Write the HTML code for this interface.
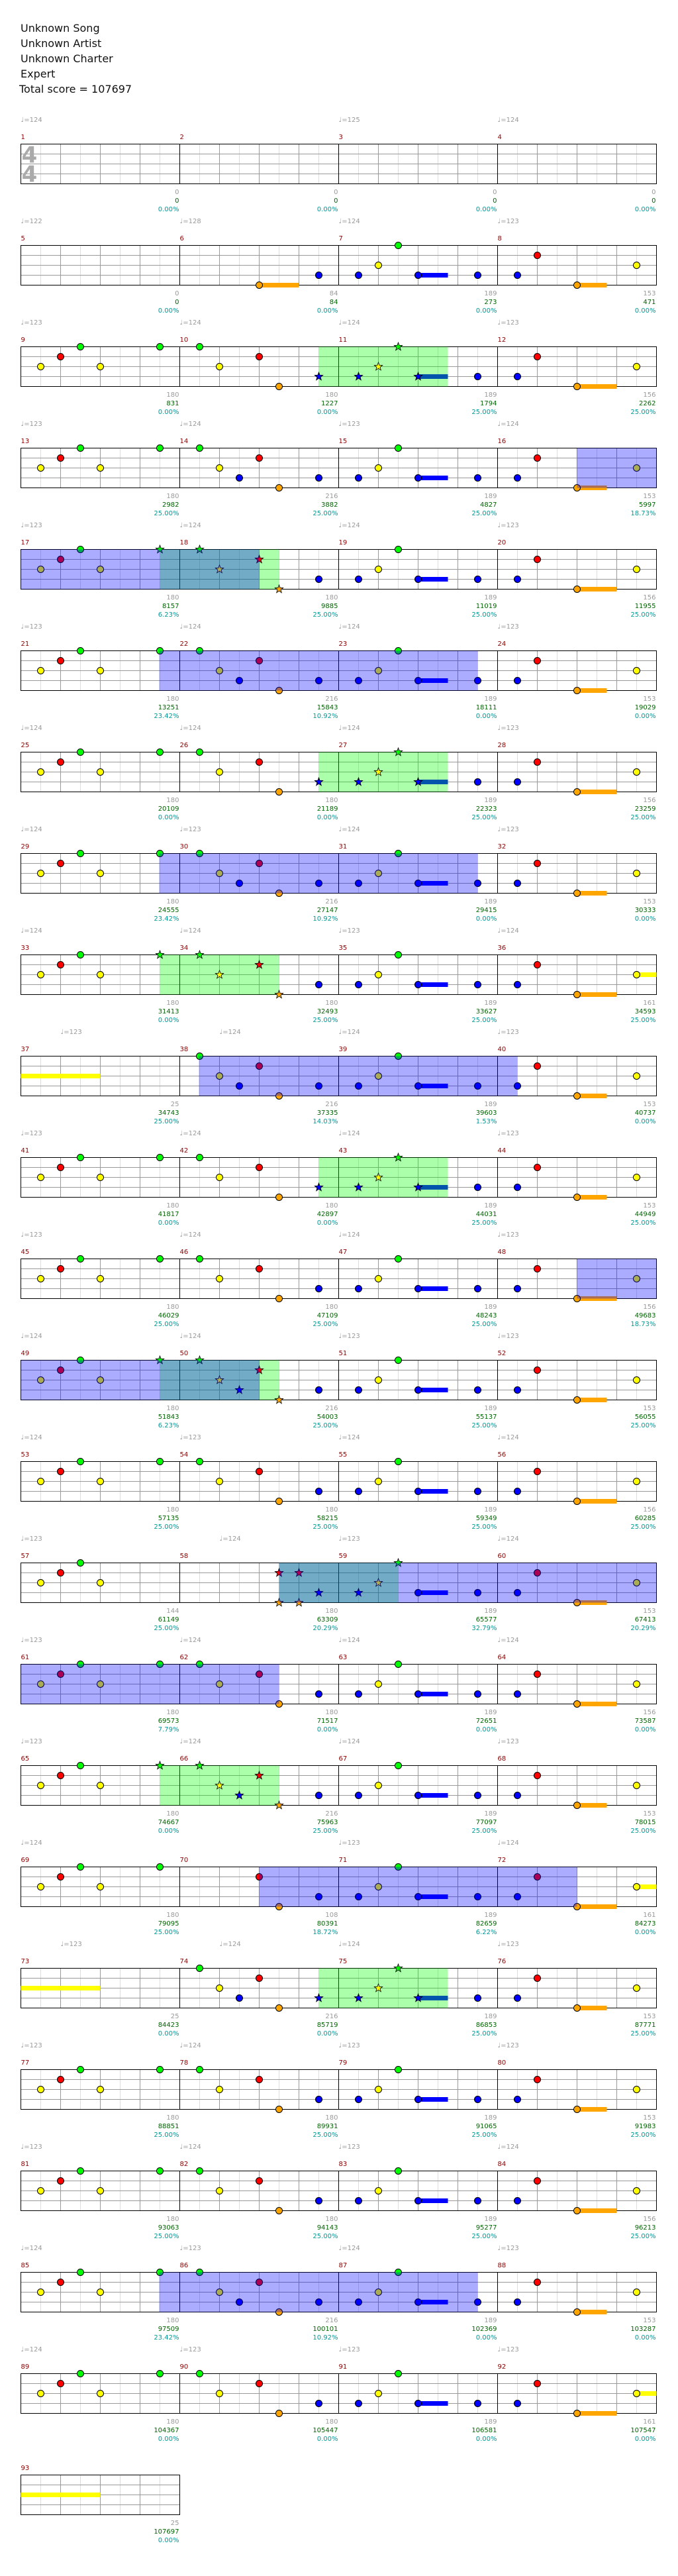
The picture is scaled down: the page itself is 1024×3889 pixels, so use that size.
<!DOCTYPE html>
<html><head><meta charset="utf-8">
<style>
html,body{margin:0;padding:0;background:#fff;}
svg{display:block;}
text{font-family:"DejaVu Sans","Liberation Sans",sans-serif;font-size:10px;}
.tp{fill:#9a9a9a}
.mn{fill:#8b0000}
.g1{fill:#9a9a9a;text-anchor:end}
.g2{fill:#006400;text-anchor:end}
.g3{fill:#009a9a;text-anchor:end}
.hd{font-size:16px;fill:#111}
</style></head><body>
<svg width="1024" height="3889" viewBox="0 0 1024 3889" xmlns="http://www.w3.org/2000/svg" xmlns:xlink="http://www.w3.org/1999/xlink">
<defs>
<g id="mg"><path d="M30 0V60M90 0V60M150 0V60M210 0V60" stroke="#ddd"/><path d="M60 0V60M120 0V60M180 0V60M0 15H240M0 30H240M0 45H240" stroke="#999"/></g>
<g id="rg"><rect width="960" height="60" fill="#fff"/><use href="#mg" x="0"/><use href="#mg" x="240"/><use href="#mg" x="480"/><use href="#mg" x="720"/><rect width="960" height="60" fill="none" stroke="#000"/><path d="M240 0V60M480 0V60M720 0V60" stroke="#000"/></g>
<circle id="G" r="5" fill="#00ff00" stroke="#000"/>
<circle id="R" r="5" fill="#ff0000" stroke="#000"/>
<circle id="Y" r="5" fill="#ffff00" stroke="#000"/>
<circle id="B" r="5" fill="#0000ff" stroke="#000"/>
<circle id="O" r="5" fill="#ffa500" stroke="#000"/>
<path id="st" d="M0,-6.5L1.6,-2.2L6.2,-2L2.6,0.8L3.8,5.3L0,2.7L-3.8,5.3L-2.6,0.8L-6.2,-2L-1.6,-2.2Z" stroke="#000" stroke-width="0.8"/>
<use id="sG" href="#st" fill="#00ff00"/>
<use id="sR" href="#st" fill="#ff0000"/>
<use id="sY" href="#st" fill="#ffff00"/>
<use id="sB" href="#st" fill="#0000ff"/>
<use id="sO" href="#st" fill="#ffa500"/>
<g id="mAx"><use href="#Y" x="30" y="30"/><use href="#R" x="60" y="15"/><use href="#G" x="90" y="0"/><use href="#Y" x="120" y="30"/></g>
<g id="mA"><use href="#mAx"/><use href="#G" x="210" y="0"/></g>
<g id="mBx"><use href="#G" x="30" y="0"/><use href="#Y" x="60" y="30"/><use href="#R" x="120" y="15"/><use href="#O" x="150" y="60"/></g>
<g id="mB"><use href="#mBx"/><use href="#B" x="210" y="45"/></g>
<g id="mB9"><use href="#mB"/><use href="#B" x="90" y="45"/></g>
<g id="mC"><rect x="120" y="41.5" width="45" height="7" fill="#0000ff"/><use href="#B" x="30" y="45"/><use href="#Y" x="60" y="30"/><use href="#G" x="90" y="0"/><use href="#B" x="120" y="45"/><use href="#B" x="210" y="45"/></g>
<g id="mD5"><rect x="120" y="56.5" width="45" height="7" fill="#ffa500"/><use href="#B" x="30" y="45"/><use href="#R" x="60" y="15"/><use href="#O" x="120" y="60"/><use href="#Y" x="210" y="30"/></g>
<g id="mD8"><rect x="120" y="56.5" width="60" height="7" fill="#ffa500"/><use href="#B" x="30" y="45"/><use href="#R" x="60" y="15"/><use href="#O" x="120" y="60"/><use href="#Y" x="210" y="30"/></g>
<g id="sp11"><rect x="120" y="41.5" width="45" height="7" fill="#0000ff"/></g>
<g id="st11"><use href="#sB" x="30" y="45"/><use href="#sY" x="60" y="30"/><use href="#sG" x="90" y="0"/><use href="#sB" x="120" y="45"/><use href="#B" x="210" y="45"/></g>
</defs>

<text class="hd" x="31" y="48">Unknown Song</text>
<text class="hd" x="31" y="71">Unknown Artist</text>
<text class="hd" x="31" y="94">Unknown Charter</text>
<text class="hd" x="31" y="117">Expert</text>
<text class="hd" x="29" y="140">Total score = 107697</text>

<!-- Row 1 -->
<g transform="translate(31.5,217.5)">
<use href="#rg"/>
<text x="13" y="28" style="font-size:34px;font-weight:bold;fill:#aaa" text-anchor="middle">4</text>
<text x="13" y="57" style="font-size:34px;font-weight:bold;fill:#aaa" text-anchor="middle">4</text>
<text class="tp" x="0" y="-33.5">♩=124</text><text class="tp" x="480" y="-33.5">♩=125</text><text class="tp" x="720" y="-33.5">♩=124</text>
<text class="mn" x="0" y="-7.5">1</text><text class="mn" x="240" y="-7.5">2</text><text class="mn" x="480" y="-7.5">3</text><text class="mn" x="720" y="-7.5">4</text>
<text class="g1" x="239" y="75.5">0</text><text class="g2" x="239" y="88.5">0</text><text class="g3" x="239" y="101.5">0.00%</text>
<text class="g1" x="479" y="75.5">0</text><text class="g2" x="479" y="88.5">0</text><text class="g3" x="479" y="101.5">0.00%</text>
<text class="g1" x="719" y="75.5">0</text><text class="g2" x="719" y="88.5">0</text><text class="g3" x="719" y="101.5">0.00%</text>
<text class="g1" x="959" y="75.5">0</text><text class="g2" x="959" y="88.5">0</text><text class="g3" x="959" y="101.5">0.00%</text>
</g>

<!-- Row 2 -->
<g transform="translate(31.5,370.5)">
<use href="#rg"/>
<rect x="360" y="56.5" width="60" height="7" fill="#ffa500"/><use href="#O" x="360" y="60"/><use href="#B" x="450" y="45"/>
<use href="#mC" x="480"/><use href="#mD5" x="720"/>
<text class="tp" x="0" y="-33.5">♩=122</text><text class="tp" x="240" y="-33.5">♩=128</text><text class="tp" x="480" y="-33.5">♩=124</text><text class="tp" x="720" y="-33.5">♩=123</text>
<text class="mn" x="0" y="-7.5">5</text><text class="mn" x="240" y="-7.5">6</text><text class="mn" x="480" y="-7.5">7</text><text class="mn" x="720" y="-7.5">8</text>
<text class="g1" x="239" y="75.5">0</text><text class="g2" x="239" y="88.5">0</text><text class="g3" x="239" y="101.5">0.00%</text>
<text class="g1" x="479" y="75.5">84</text><text class="g2" x="479" y="88.5">84</text><text class="g3" x="479" y="101.5">0.00%</text>
<text class="g1" x="719" y="75.5">189</text><text class="g2" x="719" y="88.5">273</text><text class="g3" x="719" y="101.5">0.00%</text>
<text class="g1" x="959" y="75.5">153</text><text class="g2" x="959" y="88.5">471</text><text class="g3" x="959" y="101.5">0.00%</text>
</g>

<!-- Row 3 -->
<g transform="translate(31.5,523.5)">
<use href="#rg"/>
<use href="#sp11" x="480"/>
<rect x="450" y="0" width="195" height="60" fill="#00ff00" fill-opacity="0.33"/>
<use href="#mA" x="0"/><use href="#mBx" x="240"/><use href="#sB" x="450" y="45"/>
<use href="#st11" x="480"/><use href="#mD8" x="720"/>
<text class="tp" x="0" y="-33.5">♩=123</text><text class="tp" x="240" y="-33.5">♩=124</text><text class="tp" x="480" y="-33.5">♩=124</text><text class="tp" x="720" y="-33.5">♩=123</text>
<text class="mn" x="0" y="-7.5">9</text><text class="mn" x="240" y="-7.5">10</text><text class="mn" x="480" y="-7.5">11</text><text class="mn" x="720" y="-7.5">12</text>
<text class="g1" x="239" y="75.5">180</text><text class="g2" x="239" y="88.5">831</text><text class="g3" x="239" y="101.5">0.00%</text>
<text class="g1" x="479" y="75.5">180</text><text class="g2" x="479" y="88.5">1227</text><text class="g3" x="479" y="101.5">0.00%</text>
<text class="g1" x="719" y="75.5">189</text><text class="g2" x="719" y="88.5">1794</text><text class="g3" x="719" y="101.5">25.00%</text>
<text class="g1" x="959" y="75.5">156</text><text class="g2" x="959" y="88.5">2262</text><text class="g3" x="959" y="101.5">25.00%</text>
</g>

<!-- Row 4 -->
<g transform="translate(31.5,676.5)">
<use href="#rg"/>
<use href="#mA" x="0"/><use href="#mB9" x="240"/><use href="#mC" x="480"/><use href="#mD5" x="720"/>
<rect x="840" y="0" width="120" height="60" fill="#0000ff" fill-opacity="0.33"/>
<text class="tp" x="0" y="-33.5">♩=123</text><text class="tp" x="240" y="-33.5">♩=124</text><text class="tp" x="480" y="-33.5">♩=123</text><text class="tp" x="720" y="-33.5">♩=124</text>
<text class="mn" x="0" y="-7.5">13</text><text class="mn" x="240" y="-7.5">14</text><text class="mn" x="480" y="-7.5">15</text><text class="mn" x="720" y="-7.5">16</text>
<text class="g1" x="239" y="75.5">180</text><text class="g2" x="239" y="88.5">2982</text><text class="g3" x="239" y="101.5">25.00%</text>
<text class="g1" x="479" y="75.5">216</text><text class="g2" x="479" y="88.5">3882</text><text class="g3" x="479" y="101.5">25.00%</text>
<text class="g1" x="719" y="75.5">189</text><text class="g2" x="719" y="88.5">4827</text><text class="g3" x="719" y="101.5">25.00%</text>
<text class="g1" x="959" y="75.5">153</text><text class="g2" x="959" y="88.5">5997</text><text class="g3" x="959" y="101.5">18.73%</text>
</g>

<!-- Row 5 -->
<g transform="translate(31.5,829.5)">
<use href="#rg"/>
<rect x="210" y="0" width="180" height="60" fill="#00ff00" fill-opacity="0.33"/>
<use href="#mAx" x="0"/><use href="#sG" x="210" y="0"/>
<use href="#sG" x="270" y="0"/><use href="#sY" x="300" y="30"/><use href="#sR" x="360" y="15"/><use href="#sO" x="390" y="60"/><use href="#B" x="450" y="45"/>
<use href="#mC" x="480"/><use href="#mD8" x="720"/>
<rect x="0" y="0" width="360" height="60" fill="#0000ff" fill-opacity="0.33"/>
<text class="tp" x="0" y="-33.5">♩=123</text><text class="tp" x="240" y="-33.5">♩=124</text><text class="tp" x="480" y="-33.5">♩=124</text><text class="tp" x="720" y="-33.5">♩=123</text>
<text class="mn" x="0" y="-7.5">17</text><text class="mn" x="240" y="-7.5">18</text><text class="mn" x="480" y="-7.5">19</text><text class="mn" x="720" y="-7.5">20</text>
<text class="g1" x="239" y="75.5">180</text><text class="g2" x="239" y="88.5">8157</text><text class="g3" x="239" y="101.5">6.23%</text>
<text class="g1" x="479" y="75.5">180</text><text class="g2" x="479" y="88.5">9885</text><text class="g3" x="479" y="101.5">25.00%</text>
<text class="g1" x="719" y="75.5">189</text><text class="g2" x="719" y="88.5">11019</text><text class="g3" x="719" y="101.5">25.00%</text>
<text class="g1" x="959" y="75.5">156</text><text class="g2" x="959" y="88.5">11955</text><text class="g3" x="959" y="101.5">25.00%</text>
</g>

<!-- Row 6 -->
<g transform="translate(31.5,982.5)">
<use href="#rg"/>
<use href="#mA" x="0"/><use href="#mB9" x="240"/><use href="#mC" x="480"/><use href="#mD5" x="720"/>
<rect x="209" y="0" width="481" height="60" fill="#0000ff" fill-opacity="0.33"/>
<text class="tp" x="0" y="-33.5">♩=123</text><text class="tp" x="240" y="-33.5">♩=124</text><text class="tp" x="480" y="-33.5">♩=124</text><text class="tp" x="720" y="-33.5">♩=123</text>
<text class="mn" x="0" y="-7.5">21</text><text class="mn" x="240" y="-7.5">22</text><text class="mn" x="480" y="-7.5">23</text><text class="mn" x="720" y="-7.5">24</text>
<text class="g1" x="239" y="75.5">180</text><text class="g2" x="239" y="88.5">13251</text><text class="g3" x="239" y="101.5">23.42%</text>
<text class="g1" x="479" y="75.5">216</text><text class="g2" x="479" y="88.5">15843</text><text class="g3" x="479" y="101.5">10.92%</text>
<text class="g1" x="719" y="75.5">189</text><text class="g2" x="719" y="88.5">18111</text><text class="g3" x="719" y="101.5">0.00%</text>
<text class="g1" x="959" y="75.5">153</text><text class="g2" x="959" y="88.5">19029</text><text class="g3" x="959" y="101.5">0.00%</text>
</g>

<!-- Row 7 -->
<g transform="translate(31.5,1135.5)">
<use href="#rg"/>
<use href="#sp11" x="480"/>
<rect x="450" y="0" width="195" height="60" fill="#00ff00" fill-opacity="0.33"/>
<use href="#mA" x="0"/><use href="#mBx" x="240"/><use href="#sB" x="450" y="45"/>
<use href="#st11" x="480"/><use href="#mD8" x="720"/>
<text class="tp" x="0" y="-33.5">♩=124</text><text class="tp" x="240" y="-33.5">♩=124</text><text class="tp" x="480" y="-33.5">♩=124</text><text class="tp" x="720" y="-33.5">♩=123</text>
<text class="mn" x="0" y="-7.5">25</text><text class="mn" x="240" y="-7.5">26</text><text class="mn" x="480" y="-7.5">27</text><text class="mn" x="720" y="-7.5">28</text>
<text class="g1" x="239" y="75.5">180</text><text class="g2" x="239" y="88.5">20109</text><text class="g3" x="239" y="101.5">0.00%</text>
<text class="g1" x="479" y="75.5">180</text><text class="g2" x="479" y="88.5">21189</text><text class="g3" x="479" y="101.5">0.00%</text>
<text class="g1" x="719" y="75.5">189</text><text class="g2" x="719" y="88.5">22323</text><text class="g3" x="719" y="101.5">25.00%</text>
<text class="g1" x="959" y="75.5">156</text><text class="g2" x="959" y="88.5">23259</text><text class="g3" x="959" y="101.5">25.00%</text>
</g>

<!-- Row 8 -->
<g transform="translate(31.5,1288.5)">
<use href="#rg"/>
<use href="#mA" x="0"/><use href="#mB9" x="240"/><use href="#mC" x="480"/><use href="#mD5" x="720"/>
<rect x="209" y="0" width="481" height="60" fill="#0000ff" fill-opacity="0.33"/>
<text class="tp" x="0" y="-33.5">♩=124</text><text class="tp" x="240" y="-33.5">♩=123</text><text class="tp" x="480" y="-33.5">♩=124</text><text class="tp" x="720" y="-33.5">♩=123</text>
<text class="mn" x="0" y="-7.5">29</text><text class="mn" x="240" y="-7.5">30</text><text class="mn" x="480" y="-7.5">31</text><text class="mn" x="720" y="-7.5">32</text>
<text class="g1" x="239" y="75.5">180</text><text class="g2" x="239" y="88.5">24555</text><text class="g3" x="239" y="101.5">23.42%</text>
<text class="g1" x="479" y="75.5">216</text><text class="g2" x="479" y="88.5">27147</text><text class="g3" x="479" y="101.5">10.92%</text>
<text class="g1" x="719" y="75.5">189</text><text class="g2" x="719" y="88.5">29415</text><text class="g3" x="719" y="101.5">0.00%</text>
<text class="g1" x="959" y="75.5">153</text><text class="g2" x="959" y="88.5">30333</text><text class="g3" x="959" y="101.5">0.00%</text>
</g>

<!-- Row 9 -->
<g transform="translate(31.5,1441.5)">
<use href="#rg"/>
<rect x="210" y="0" width="180" height="60" fill="#00ff00" fill-opacity="0.33"/>
<use href="#mAx" x="0"/><use href="#sG" x="210" y="0"/>
<use href="#sG" x="270" y="0"/><use href="#sY" x="300" y="30"/><use href="#sR" x="360" y="15"/><use href="#sO" x="390" y="60"/><use href="#B" x="450" y="45"/>
<use href="#mC" x="480"/>
<rect x="930" y="26.5" width="30" height="7" fill="#ffff00"/><use href="#mD8" x="720"/>
<text class="tp" x="0" y="-33.5">♩=124</text><text class="tp" x="240" y="-33.5">♩=124</text><text class="tp" x="480" y="-33.5">♩=123</text><text class="tp" x="720" y="-33.5">♩=124</text>
<text class="mn" x="0" y="-7.5">33</text><text class="mn" x="240" y="-7.5">34</text><text class="mn" x="480" y="-7.5">35</text><text class="mn" x="720" y="-7.5">36</text>
<text class="g1" x="239" y="75.5">180</text><text class="g2" x="239" y="88.5">31413</text><text class="g3" x="239" y="101.5">0.00%</text>
<text class="g1" x="479" y="75.5">180</text><text class="g2" x="479" y="88.5">32493</text><text class="g3" x="479" y="101.5">25.00%</text>
<text class="g1" x="719" y="75.5">189</text><text class="g2" x="719" y="88.5">33627</text><text class="g3" x="719" y="101.5">25.00%</text>
<text class="g1" x="959" y="75.5">161</text><text class="g2" x="959" y="88.5">34593</text><text class="g3" x="959" y="101.5">25.00%</text>
</g>

<!-- Row 10 -->
<g transform="translate(31.5,1594.5)">
<use href="#rg"/>
<rect x="0" y="26.5" width="120" height="7" fill="#ffff00"/>
<use href="#mB9" x="240"/><use href="#mC" x="480"/><use href="#mD5" x="720"/>
<rect x="269" y="0" width="481" height="60" fill="#0000ff" fill-opacity="0.33"/>
<text class="tp" x="60" y="-33.5">♩=123</text><text class="tp" x="300" y="-33.5">♩=124</text><text class="tp" x="480" y="-33.5">♩=124</text><text class="tp" x="720" y="-33.5">♩=123</text>
<text class="mn" x="0" y="-7.5">37</text><text class="mn" x="240" y="-7.5">38</text><text class="mn" x="480" y="-7.5">39</text><text class="mn" x="720" y="-7.5">40</text>
<text class="g1" x="239" y="75.5">25</text><text class="g2" x="239" y="88.5">34743</text><text class="g3" x="239" y="101.5">25.00%</text>
<text class="g1" x="479" y="75.5">216</text><text class="g2" x="479" y="88.5">37335</text><text class="g3" x="479" y="101.5">14.03%</text>
<text class="g1" x="719" y="75.5">189</text><text class="g2" x="719" y="88.5">39603</text><text class="g3" x="719" y="101.5">1.53%</text>
<text class="g1" x="959" y="75.5">153</text><text class="g2" x="959" y="88.5">40737</text><text class="g3" x="959" y="101.5">0.00%</text>
</g>

<!-- Row 11 -->
<g transform="translate(31.5,1747.5)">
<use href="#rg"/>
<use href="#sp11" x="480"/>
<rect x="450" y="0" width="195" height="60" fill="#00ff00" fill-opacity="0.33"/>
<use href="#mA" x="0"/><use href="#mBx" x="240"/><use href="#sB" x="450" y="45"/>
<use href="#st11" x="480"/><use href="#mD5" x="720"/>
<text class="tp" x="0" y="-33.5">♩=123</text><text class="tp" x="240" y="-33.5">♩=124</text><text class="tp" x="480" y="-33.5">♩=124</text><text class="tp" x="720" y="-33.5">♩=123</text>
<text class="mn" x="0" y="-7.5">41</text><text class="mn" x="240" y="-7.5">42</text><text class="mn" x="480" y="-7.5">43</text><text class="mn" x="720" y="-7.5">44</text>
<text class="g1" x="239" y="75.5">180</text><text class="g2" x="239" y="88.5">41817</text><text class="g3" x="239" y="101.5">0.00%</text>
<text class="g1" x="479" y="75.5">180</text><text class="g2" x="479" y="88.5">42897</text><text class="g3" x="479" y="101.5">0.00%</text>
<text class="g1" x="719" y="75.5">189</text><text class="g2" x="719" y="88.5">44031</text><text class="g3" x="719" y="101.5">25.00%</text>
<text class="g1" x="959" y="75.5">153</text><text class="g2" x="959" y="88.5">44949</text><text class="g3" x="959" y="101.5">25.00%</text>
</g>

<!-- Row 12 -->
<g transform="translate(31.5,1900.5)">
<use href="#rg"/>
<use href="#mA" x="0"/><use href="#mB" x="240"/><use href="#mC" x="480"/><use href="#mD8" x="720"/>
<rect x="840" y="0" width="120" height="60" fill="#0000ff" fill-opacity="0.33"/>
<text class="tp" x="0" y="-33.5">♩=123</text><text class="tp" x="240" y="-33.5">♩=124</text><text class="tp" x="480" y="-33.5">♩=124</text><text class="tp" x="720" y="-33.5">♩=123</text>
<text class="mn" x="0" y="-7.5">45</text><text class="mn" x="240" y="-7.5">46</text><text class="mn" x="480" y="-7.5">47</text><text class="mn" x="720" y="-7.5">48</text>
<text class="g1" x="239" y="75.5">180</text><text class="g2" x="239" y="88.5">46029</text><text class="g3" x="239" y="101.5">25.00%</text>
<text class="g1" x="479" y="75.5">180</text><text class="g2" x="479" y="88.5">47109</text><text class="g3" x="479" y="101.5">25.00%</text>
<text class="g1" x="719" y="75.5">189</text><text class="g2" x="719" y="88.5">48243</text><text class="g3" x="719" y="101.5">25.00%</text>
<text class="g1" x="959" y="75.5">156</text><text class="g2" x="959" y="88.5">49683</text><text class="g3" x="959" y="101.5">18.73%</text>
</g>

<!-- Row 13 -->
<g transform="translate(31.5,2053.5)">
<use href="#rg"/>
<rect x="210" y="0" width="180" height="60" fill="#00ff00" fill-opacity="0.33"/>
<use href="#mAx" x="0"/><use href="#sG" x="210" y="0"/>
<use href="#sG" x="270" y="0"/><use href="#sY" x="300" y="30"/><use href="#sB" x="330" y="45"/><use href="#sR" x="360" y="15"/><use href="#sO" x="390" y="60"/><use href="#B" x="450" y="45"/>
<use href="#mC" x="480"/><use href="#mD5" x="720"/>
<rect x="0" y="0" width="360" height="60" fill="#0000ff" fill-opacity="0.33"/>
<text class="tp" x="0" y="-33.5">♩=124</text><text class="tp" x="240" y="-33.5">♩=124</text><text class="tp" x="480" y="-33.5">♩=123</text><text class="tp" x="720" y="-33.5">♩=123</text>
<text class="mn" x="0" y="-7.5">49</text><text class="mn" x="240" y="-7.5">50</text><text class="mn" x="480" y="-7.5">51</text><text class="mn" x="720" y="-7.5">52</text>
<text class="g1" x="239" y="75.5">180</text><text class="g2" x="239" y="88.5">51843</text><text class="g3" x="239" y="101.5">6.23%</text>
<text class="g1" x="479" y="75.5">216</text><text class="g2" x="479" y="88.5">54003</text><text class="g3" x="479" y="101.5">25.00%</text>
<text class="g1" x="719" y="75.5">189</text><text class="g2" x="719" y="88.5">55137</text><text class="g3" x="719" y="101.5">25.00%</text>
<text class="g1" x="959" y="75.5">153</text><text class="g2" x="959" y="88.5">56055</text><text class="g3" x="959" y="101.5">25.00%</text>
</g>

<!-- Row 14 -->
<g transform="translate(31.5,2206.5)">
<use href="#rg"/>
<use href="#mA" x="0"/><use href="#mB" x="240"/><use href="#mC" x="480"/><use href="#mD8" x="720"/>
<text class="tp" x="0" y="-33.5">♩=124</text><text class="tp" x="240" y="-33.5">♩=123</text><text class="tp" x="480" y="-33.5">♩=124</text><text class="tp" x="720" y="-33.5">♩=124</text>
<text class="mn" x="0" y="-7.5">53</text><text class="mn" x="240" y="-7.5">54</text><text class="mn" x="480" y="-7.5">55</text><text class="mn" x="720" y="-7.5">56</text>
<text class="g1" x="239" y="75.5">180</text><text class="g2" x="239" y="88.5">57135</text><text class="g3" x="239" y="101.5">25.00%</text>
<text class="g1" x="479" y="75.5">180</text><text class="g2" x="479" y="88.5">58215</text><text class="g3" x="479" y="101.5">25.00%</text>
<text class="g1" x="719" y="75.5">189</text><text class="g2" x="719" y="88.5">59349</text><text class="g3" x="719" y="101.5">25.00%</text>
<text class="g1" x="959" y="75.5">156</text><text class="g2" x="959" y="88.5">60285</text><text class="g3" x="959" y="101.5">25.00%</text>
</g>

<!-- Row 15 -->
<g transform="translate(31.5,2359.5)">
<use href="#rg"/>
<rect x="600" y="41.5" width="45" height="7" fill="#0000ff"/>
<rect x="390" y="0" width="180" height="60" fill="#00ff00" fill-opacity="0.33"/>
<use href="#mAx" x="0"/>
<use href="#sR" x="390" y="15"/><use href="#sO" x="390" y="60"/><use href="#sR" x="420" y="15"/><use href="#sO" x="420" y="60"/><use href="#sB" x="450" y="45"/>
<use href="#sB" x="510" y="45"/><use href="#sY" x="540" y="30"/><use href="#sG" x="570" y="0"/><use href="#B" x="600" y="45"/><use href="#B" x="690" y="45"/>
<use href="#mD5" x="720"/>
<rect x="390" y="0" width="570" height="60" fill="#0000ff" fill-opacity="0.33"/>
<text class="tp" x="0" y="-33.5">♩=123</text><text class="tp" x="300" y="-33.5">♩=124</text><text class="tp" x="480" y="-33.5">♩=123</text><text class="tp" x="720" y="-33.5">♩=124</text>
<text class="mn" x="0" y="-7.5">57</text><text class="mn" x="240" y="-7.5">58</text><text class="mn" x="480" y="-7.5">59</text><text class="mn" x="720" y="-7.5">60</text>
<text class="g1" x="239" y="75.5">144</text><text class="g2" x="239" y="88.5">61149</text><text class="g3" x="239" y="101.5">25.00%</text>
<text class="g1" x="479" y="75.5">180</text><text class="g2" x="479" y="88.5">63309</text><text class="g3" x="479" y="101.5">20.29%</text>
<text class="g1" x="719" y="75.5">189</text><text class="g2" x="719" y="88.5">65577</text><text class="g3" x="719" y="101.5">32.79%</text>
<text class="g1" x="959" y="75.5">153</text><text class="g2" x="959" y="88.5">67413</text><text class="g3" x="959" y="101.5">20.29%</text>
</g>

<!-- Row 16 -->
<g transform="translate(31.5,2512.5)">
<use href="#rg"/>
<use href="#mA" x="0"/><use href="#mB" x="240"/><use href="#mC" x="480"/><use href="#mD8" x="720"/>
<rect x="0" y="0" width="390" height="60" fill="#0000ff" fill-opacity="0.33"/>
<text class="tp" x="0" y="-33.5">♩=123</text><text class="tp" x="240" y="-33.5">♩=124</text><text class="tp" x="480" y="-33.5">♩=124</text><text class="tp" x="720" y="-33.5">♩=124</text>
<text class="mn" x="0" y="-7.5">61</text><text class="mn" x="240" y="-7.5">62</text><text class="mn" x="480" y="-7.5">63</text><text class="mn" x="720" y="-7.5">64</text>
<text class="g1" x="239" y="75.5">180</text><text class="g2" x="239" y="88.5">69573</text><text class="g3" x="239" y="101.5">7.79%</text>
<text class="g1" x="479" y="75.5">180</text><text class="g2" x="479" y="88.5">71517</text><text class="g3" x="479" y="101.5">0.00%</text>
<text class="g1" x="719" y="75.5">189</text><text class="g2" x="719" y="88.5">72651</text><text class="g3" x="719" y="101.5">0.00%</text>
<text class="g1" x="959" y="75.5">156</text><text class="g2" x="959" y="88.5">73587</text><text class="g3" x="959" y="101.5">0.00%</text>
</g>

<!-- Row 17 -->
<g transform="translate(31.5,2665.5)">
<use href="#rg"/>
<rect x="210" y="0" width="180" height="60" fill="#00ff00" fill-opacity="0.33"/>
<use href="#mAx" x="0"/><use href="#sG" x="210" y="0"/>
<use href="#sG" x="270" y="0"/><use href="#sY" x="300" y="30"/><use href="#sB" x="330" y="45"/><use href="#sR" x="360" y="15"/><use href="#sO" x="390" y="60"/><use href="#B" x="450" y="45"/>
<use href="#mC" x="480"/><use href="#mD5" x="720"/>
<text class="tp" x="0" y="-33.5">♩=123</text><text class="tp" x="240" y="-33.5">♩=124</text><text class="tp" x="480" y="-33.5">♩=124</text><text class="tp" x="720" y="-33.5">♩=123</text>
<text class="mn" x="0" y="-7.5">65</text><text class="mn" x="240" y="-7.5">66</text><text class="mn" x="480" y="-7.5">67</text><text class="mn" x="720" y="-7.5">68</text>
<text class="g1" x="239" y="75.5">180</text><text class="g2" x="239" y="88.5">74667</text><text class="g3" x="239" y="101.5">0.00%</text>
<text class="g1" x="479" y="75.5">216</text><text class="g2" x="479" y="88.5">75963</text><text class="g3" x="479" y="101.5">25.00%</text>
<text class="g1" x="719" y="75.5">189</text><text class="g2" x="719" y="88.5">77097</text><text class="g3" x="719" y="101.5">25.00%</text>
<text class="g1" x="959" y="75.5">153</text><text class="g2" x="959" y="88.5">78015</text><text class="g3" x="959" y="101.5">25.00%</text>
</g>

<!-- Row 18 -->
<g transform="translate(31.5,2818.5)">
<use href="#rg"/>
<use href="#mA" x="0"/>
<use href="#R" x="360" y="15"/><use href="#O" x="390" y="60"/><use href="#B" x="450" y="45"/>
<use href="#mC" x="480"/>
<rect x="840" y="56.5" width="60" height="7" fill="#ffa500"/><rect x="930" y="26.5" width="30" height="7" fill="#ffff00"/>
<use href="#B" x="750" y="45"/><use href="#R" x="780" y="15"/><use href="#O" x="840" y="60"/><use href="#Y" x="930" y="30"/>
<rect x="360" y="0" width="480" height="60" fill="#0000ff" fill-opacity="0.33"/>
<text class="tp" x="0" y="-33.5">♩=124</text><text class="tp" x="480" y="-33.5">♩=123</text><text class="tp" x="720" y="-33.5">♩=124</text>
<text class="mn" x="0" y="-7.5">69</text><text class="mn" x="240" y="-7.5">70</text><text class="mn" x="480" y="-7.5">71</text><text class="mn" x="720" y="-7.5">72</text>
<text class="g1" x="239" y="75.5">180</text><text class="g2" x="239" y="88.5">79095</text><text class="g3" x="239" y="101.5">25.00%</text>
<text class="g1" x="479" y="75.5">108</text><text class="g2" x="479" y="88.5">80391</text><text class="g3" x="479" y="101.5">18.72%</text>
<text class="g1" x="719" y="75.5">189</text><text class="g2" x="719" y="88.5">82659</text><text class="g3" x="719" y="101.5">6.22%</text>
<text class="g1" x="959" y="75.5">161</text><text class="g2" x="959" y="88.5">84273</text><text class="g3" x="959" y="101.5">0.00%</text>
</g>

<!-- Row 19 -->
<g transform="translate(31.5,2971.5)">
<use href="#rg"/>
<rect x="0" y="26.5" width="120" height="7" fill="#ffff00"/>
<use href="#sp11" x="480"/>
<rect x="450" y="0" width="195" height="60" fill="#00ff00" fill-opacity="0.33"/>
<use href="#mBx" x="240"/><use href="#B" x="330" y="45"/><use href="#sB" x="450" y="45"/>
<use href="#st11" x="480"/><use href="#mD5" x="720"/>
<text class="tp" x="60" y="-33.5">♩=123</text><text class="tp" x="300" y="-33.5">♩=124</text><text class="tp" x="480" y="-33.5">♩=124</text><text class="tp" x="720" y="-33.5">♩=123</text>
<text class="mn" x="0" y="-7.5">73</text><text class="mn" x="240" y="-7.5">74</text><text class="mn" x="480" y="-7.5">75</text><text class="mn" x="720" y="-7.5">76</text>
<text class="g1" x="239" y="75.5">25</text><text class="g2" x="239" y="88.5">84423</text><text class="g3" x="239" y="101.5">0.00%</text>
<text class="g1" x="479" y="75.5">216</text><text class="g2" x="479" y="88.5">85719</text><text class="g3" x="479" y="101.5">0.00%</text>
<text class="g1" x="719" y="75.5">189</text><text class="g2" x="719" y="88.5">86853</text><text class="g3" x="719" y="101.5">25.00%</text>
<text class="g1" x="959" y="75.5">153</text><text class="g2" x="959" y="88.5">87771</text><text class="g3" x="959" y="101.5">25.00%</text>
</g>

<!-- Row 20 -->
<g transform="translate(31.5,3124.5)">
<use href="#rg"/>
<use href="#mA" x="0"/><use href="#mB" x="240"/><use href="#mC" x="480"/><use href="#mD5" x="720"/>
<text class="tp" x="0" y="-33.5">♩=123</text><text class="tp" x="240" y="-33.5">♩=124</text><text class="tp" x="480" y="-33.5">♩=123</text><text class="tp" x="720" y="-33.5">♩=123</text>
<text class="mn" x="0" y="-7.5">77</text><text class="mn" x="240" y="-7.5">78</text><text class="mn" x="480" y="-7.5">79</text><text class="mn" x="720" y="-7.5">80</text>
<text class="g1" x="239" y="75.5">180</text><text class="g2" x="239" y="88.5">88851</text><text class="g3" x="239" y="101.5">25.00%</text>
<text class="g1" x="479" y="75.5">180</text><text class="g2" x="479" y="88.5">89931</text><text class="g3" x="479" y="101.5">25.00%</text>
<text class="g1" x="719" y="75.5">189</text><text class="g2" x="719" y="88.5">91065</text><text class="g3" x="719" y="101.5">25.00%</text>
<text class="g1" x="959" y="75.5">153</text><text class="g2" x="959" y="88.5">91983</text><text class="g3" x="959" y="101.5">25.00%</text>
</g>

<!-- Row 21 -->
<g transform="translate(31.5,3277.5)">
<use href="#rg"/>
<use href="#mA" x="0"/><use href="#mB" x="240"/><use href="#mC" x="480"/><use href="#mD8" x="720"/>
<text class="tp" x="0" y="-33.5">♩=123</text><text class="tp" x="240" y="-33.5">♩=124</text><text class="tp" x="480" y="-33.5">♩=123</text><text class="tp" x="720" y="-33.5">♩=124</text>
<text class="mn" x="0" y="-7.5">81</text><text class="mn" x="240" y="-7.5">82</text><text class="mn" x="480" y="-7.5">83</text><text class="mn" x="720" y="-7.5">84</text>
<text class="g1" x="239" y="75.5">180</text><text class="g2" x="239" y="88.5">93063</text><text class="g3" x="239" y="101.5">25.00%</text>
<text class="g1" x="479" y="75.5">180</text><text class="g2" x="479" y="88.5">94143</text><text class="g3" x="479" y="101.5">25.00%</text>
<text class="g1" x="719" y="75.5">189</text><text class="g2" x="719" y="88.5">95277</text><text class="g3" x="719" y="101.5">25.00%</text>
<text class="g1" x="959" y="75.5">156</text><text class="g2" x="959" y="88.5">96213</text><text class="g3" x="959" y="101.5">25.00%</text>
</g>

<!-- Row 22 -->
<g transform="translate(31.5,3430.5)">
<use href="#rg"/>
<use href="#mA" x="0"/><use href="#mB9" x="240"/><use href="#mC" x="480"/><use href="#mD5" x="720"/>
<rect x="209" y="0" width="481" height="60" fill="#0000ff" fill-opacity="0.33"/>
<text class="tp" x="0" y="-33.5">♩=124</text><text class="tp" x="240" y="-33.5">♩=123</text><text class="tp" x="480" y="-33.5">♩=124</text><text class="tp" x="720" y="-33.5">♩=123</text>
<text class="mn" x="0" y="-7.5">85</text><text class="mn" x="240" y="-7.5">86</text><text class="mn" x="480" y="-7.5">87</text><text class="mn" x="720" y="-7.5">88</text>
<text class="g1" x="239" y="75.5">180</text><text class="g2" x="239" y="88.5">97509</text><text class="g3" x="239" y="101.5">23.42%</text>
<text class="g1" x="479" y="75.5">216</text><text class="g2" x="479" y="88.5">100101</text><text class="g3" x="479" y="101.5">10.92%</text>
<text class="g1" x="719" y="75.5">189</text><text class="g2" x="719" y="88.5">102369</text><text class="g3" x="719" y="101.5">0.00%</text>
<text class="g1" x="959" y="75.5">153</text><text class="g2" x="959" y="88.5">103287</text><text class="g3" x="959" y="101.5">0.00%</text>
</g>

<!-- Row 23 -->
<g transform="translate(31.5,3583.5)">
<use href="#rg"/>
<use href="#mA" x="0"/><use href="#mB" x="240"/><use href="#mC" x="480"/>
<rect x="930" y="26.5" width="30" height="7" fill="#ffff00"/><use href="#mD8" x="720"/>
<text class="tp" x="0" y="-33.5">♩=124</text><text class="tp" x="240" y="-33.5">♩=123</text><text class="tp" x="480" y="-33.5">♩=123</text><text class="tp" x="720" y="-33.5">♩=123</text>
<text class="mn" x="0" y="-7.5">89</text><text class="mn" x="240" y="-7.5">90</text><text class="mn" x="480" y="-7.5">91</text><text class="mn" x="720" y="-7.5">92</text>
<text class="g1" x="239" y="75.5">180</text><text class="g2" x="239" y="88.5">104367</text><text class="g3" x="239" y="101.5">0.00%</text>
<text class="g1" x="479" y="75.5">180</text><text class="g2" x="479" y="88.5">105447</text><text class="g3" x="479" y="101.5">0.00%</text>
<text class="g1" x="719" y="75.5">189</text><text class="g2" x="719" y="88.5">106581</text><text class="g3" x="719" y="101.5">0.00%</text>
<text class="g1" x="959" y="75.5">161</text><text class="g2" x="959" y="88.5">107547</text><text class="g3" x="959" y="101.5">0.00%</text>
</g>

<!-- Row 24 -->
<g transform="translate(31.5,3736.5)">
<rect width="240" height="60" fill="#fff"/><use href="#mg"/><rect width="240" height="60" fill="none" stroke="#000"/>
<rect x="0" y="26.5" width="120" height="7" fill="#ffff00"/>
<text class="mn" x="0" y="-7.5">93</text>
<text class="g1" x="239" y="75.5">25</text><text class="g2" x="239" y="88.5">107697</text><text class="g3" x="239" y="101.5">0.00%</text>
</g>
</svg>
</body></html>
